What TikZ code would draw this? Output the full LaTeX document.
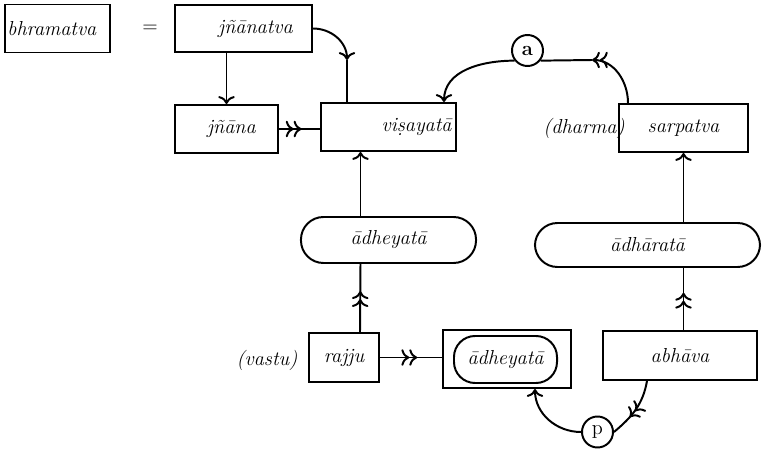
\documentclass[tikz,border=0pt]{standalone}
\usepackage{fontspec}
\usetikzlibrary{calc,arrows.meta,decorations.markings}
\tikzset{
    main_line/.style = {
        draw=black,
        line width=1.4pt
    },
    box/.style = {
        draw=black,
        line width=1.4pt,
        rectangle,
        inner sep=0pt,
        font=\Large\itshape
    },
    round_box/.style = {
        box,
        rounded corners=16pt
    },
    circ/.style = {
        draw=black,
        line width=1.4pt,
        circle,
        inner sep=0pt,
        minimum size=0.775cm,
        font=\Large
    },
    side_text/.style = {
        font=\Large\itshape
    },
    mid_arrow/.style = {
        postaction={decorate},
        decoration={markings, mark=at position #1 with {\arrow{>>}}}
    },
}

\begin{document}
\begin{tikzpicture}[x=0.025cm, y=-0.025cm, >={To[scale=1.2]}]
                \useasboundingbox (0,0) rectangle (765,453);
                \begin{scope}
                    \node[box, minimum width=2.625cm, minimum height=1.2cm] (bhramatva) at (57.5, 28.5) {\hspace*{-8pt}bhramatva};
                    \node[font=\Large] (equals) at (150, 29) {=};
                    \node[box, minimum width=3.425cm, minimum height=1.175cm] (jnanatva) at (243.5, 28.5) {\hspace*{17pt}j\~n\=anatva};
                    \node[box, minimum width=2.575cm, minimum height=1.2cm] (jnana) at (226.5, 129) {\hspace*{7pt}j\~n\=ana};
                    \node[box, minimum width=3.375cm, minimum height=1.2cm] (visayata) at (388.5, 127) {\hspace*{40pt}vi\d{s}ayat\=a};
                    \node[circ] (a) at (527.5, 50.5) {\bfseries a};
                    \node[box, minimum width=3.225cm, minimum height=1.2cm] (sarpatva) at (683.5, 128) {sarpatva};
                    \node[side_text] (dharma) at (584, 128) {(dharma)};
                \end{scope}
                \begin{scope}
                    \node[round_box, minimum width=4.375cm, minimum height=1.15cm] (adheyata) at (388.5, 240) {\=adheyat\=a};
                    \node[round_box, minimum width=5.625cm, minimum height=1.1cm] (adharata) at (647.5, 245) {\=adh\=arat\=a};
                    \node[box, minimum width=1.75cm, minimum height=1.225cm] (rajju) at (344, 357.5) {rajju};
                    \node[side_text] (vastu) at (267, 360) {(vastu)};
                    \node[box, minimum width=3.2cm, minimum height=1.45cm] (outer) at (507, 359) {};
                    \node[round_box, rounded corners=15pt, minimum width=2.575cm, minimum height=1.175cm] (inner) at (505.5, 359.5) {\=adheyat\=a};
                    \node[box, minimum width=3.85cm, minimum height=1.225cm] (abhava) at (680, 355.5) {abh\=ava};
                    \node[circ] (p) at (597.5, 432) {p};
                \end{scope}

                \coordinate (k_top) at (347, 60);
                \coordinate (a_in) at (592, 60);
                \coordinate (sarpatva_top) at ($(sarpatva.north west)+(10,0)$);
                \coordinate (visayata_top) at ($(visayata.north east)+(-13,0)$);

                \draw[main_line, ->] (jnanatva.south -| jnana.north) -- (jnana.north);
                \draw[main_line, mid_arrow=0.55] (jnana.east) -- (jnana.east -| visayata.west);
                \draw[main_line, ->] (jnanatva.east) to[out=0, in=90] (k_top);
                \draw[main_line] (k_top) -- (k_top |- visayata.north);

                \draw[main_line, ->>] (sarpatva_top) to[out=90, in=0] (a_in);
                \draw[main_line] (a_in) -- (a.-38);
                \draw[main_line, ->] (a.218) to[out=180, in=90] (visayata_top);

                \draw[main_line, ->] ($(adheyata.north)+(-28,0)$) -- ($(visayata.south)+(-28,0)$);
                \draw[main_line, mid_arrow=0.6] ($(rajju.north)+(16,0)$) -- ($(adheyata.south)+(-28,0)$);
                \draw[main_line, mid_arrow=0.6] (rajju.east) -- (rajju.east -| outer.west);

                \draw[main_line, ->] (sarpatva.south |- adharata.north) -- (sarpatva.south);
                \draw[main_line, mid_arrow=0.6] (sarpatva.south |- abhava.north) -- (sarpatva.south |- adharata.south);

                \draw[main_line, mid_arrow=0.65] ($(abhava.south west)+(45,0)$) to[out=-100, in=40] (p.east);
                \draw[main_line, ->] (p.west) to[out=180, in=-90] ($(outer.south)+(28,0)$);
            \end{tikzpicture}
\end{document}
